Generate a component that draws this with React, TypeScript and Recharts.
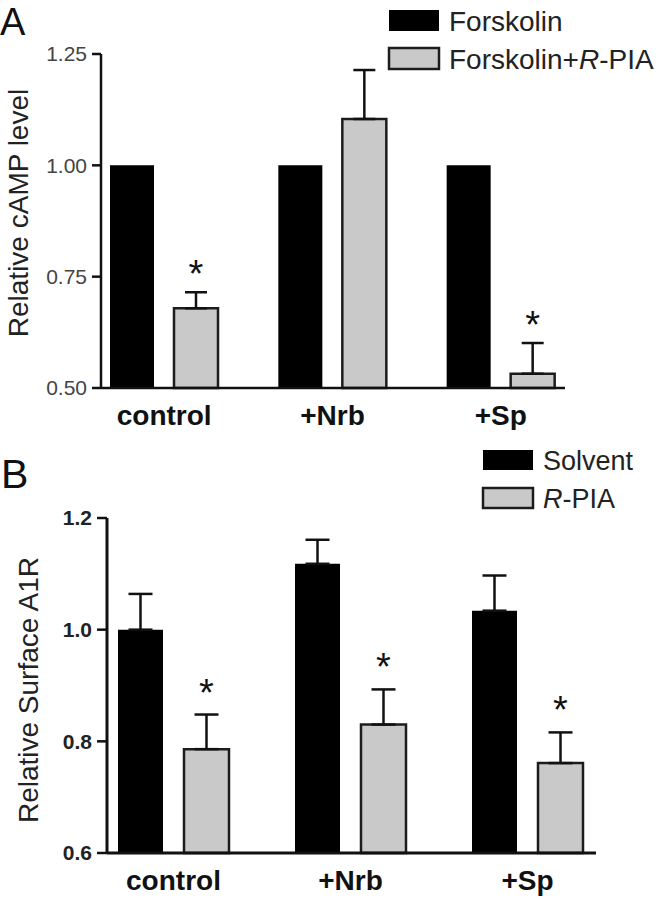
import React from "react";
import { BarChart, Bar, XAxis, YAxis, ErrorBar, LabelList, Legend } from "recharts";

const FONT = '"Liberation Sans", Arial, sans-serif';

// shared categories
const groups = ["control", "+Nrb", "+Sp"];

// panel A: cAMP
const seriesA = ["Forskolin", "Forskolin+R-PIA"];
const forskolin = [1.0, 1.0, 1.0];
const forskolinPia = [0.679, 1.104, 0.532];
const forskolinPiaErr = [0.036, 0.11, 0.069];
const forskolinPiaSig = [true, false, true];
const ticksA = [0.5, 0.75, 1.0, 1.25];

// panel B: surface A1R
const seriesB = ["Solvent", "R-PIA"];
const solvent = [1.0, 1.118, 1.034];
const solventErr = [0.064, 0.043, 0.063];
const rPia = [0.786, 0.83, 0.761];
const rPiaErr = [0.062, 0.063, 0.055];
const rPiaSig = [true, true, true];
const ticksB = [0.6, 0.8, 1.0, 1.2];

const dataA = groups.map((g, i) => ({
  group: g,
  fsk: forskolin[i],
  fskPia: forskolinPia[i],
  fskPiaErr: [0, forskolinPiaErr[i]],
}));

const dataB = groups.map((g, i) => ({
  group: g,
  solvent: solvent[i],
  solventErr: [0, solventErr[i]],
  rpia: rPia[i],
  rpiaErr: [0, rPiaErr[i]],
}));

const GRAY = "#c9c9c9";
const EDGE = "#1c1c1c";

// "R" in R-PIA is italic
function legendName(name: string) {
  const idx = name.indexOf("R-PIA");
  if (idx < 0) return name;
  return (
    <>
      {name.slice(0, idx)}
      <tspan fontStyle="italic">R</tspan>
      {name.slice(idx + 1)}
    </>
  );
}

function makeLegend(order: string[], fontSize: number, rowGap: number, rectH: number) {
  return (props: any) => {
    const items = [...(props.payload || [])].sort(
      (a: any, b: any) => order.indexOf(a.value) - order.indexOf(b.value)
    );
    return (
      <svg width={270} height={rowGap * 2 + 4} style={{ display: "block", overflow: "visible" }}>
        {items.map((it: any, i: number) => {
          const filled = i === 0;
          return (
            <g key={it.value}>
              <rect
                x={1}
                y={1 + i * rowGap}
                width={50}
                height={rectH}
                fill={filled ? "#000" : GRAY}
                stroke={filled ? "none" : EDGE}
                strokeWidth={2.5}
              />
              <text x={61} y={1 + i * rowGap + rectH} fontSize={fontSize} fill="#222" fontFamily={FONT}>
                {legendName(it.value)}
              </text>
            </g>
          );
        })}
      </svg>
    );
  };
}

// asterisk above the error bar, using the bar's own pixel scale
function makeStar(values: number[], errs: number[], sig: boolean[], yMin: number, gap: number) {
  return (props: any) => {
    const { x, y, width, height, index } = props;
    if (!sig[index]) return null;
    const pxPerUnit = height / (values[index] - yMin);
    const top = y - errs[index] * pxPerUnit;
    return (
      <text x={x + width / 2} y={top - gap} textAnchor="middle" fontSize={38} fill="#111" fontFamily={FONT}>
        *
      </text>
    );
  };
}

function PanelA() {
  return (
    <BarChart
      width={658}
      height={430}
      data={dataA}
      margin={{ top: 54, right: 93, bottom: 2, left: 0 }}
      barSize={44}
      barGap={20}
    >
      <XAxis
        dataKey="group"
        height={40}
        padding={{ left: -21, right: -20 }}
        axisLine={{ stroke: "#111", strokeWidth: 2.5 }}
        tickLine={false}
        tickSize={0}
        tickMargin={17}
        tick={{ fontSize: 28, fontWeight: "bold", fill: "#111", fontFamily: FONT }}
      />
      <YAxis
        width={101}
        domain={[0.5, 1.25]}
        ticks={ticksA}
        tickFormatter={(v: number) => v.toFixed(2)}
        axisLine={{ stroke: "#111", strokeWidth: 2.5 }}
        tickLine={{ stroke: "#111", strokeWidth: 2.5 }}
        tickSize={9}
        tickMargin={5}
        tick={{ fontSize: 21, fill: "#444", fontFamily: FONT }}
      />
      <Legend
        layout="vertical"
        align="center"
        verticalAlign="middle"
        wrapperStyle={{ position: "absolute", left: 388, top: 9, width: 270 }}
        content={makeLegend(seriesA, 28, 38, 21)}
      />
      <Bar dataKey="fsk" name={seriesA[0]} fill="#000" isAnimationActive={false} />
      <Bar dataKey="fskPia" name={seriesA[1]} fill={GRAY} stroke={EDGE} strokeWidth={2.5} isAnimationActive={false}>
        <ErrorBar dataKey="fskPiaErr" direction="y" width={11} stroke="#111" strokeWidth={2.5} />
        <LabelList dataKey="fskPia" content={makeStar(forskolinPia, forskolinPiaErr, forskolinPiaSig, 0.5, 5)} />
      </Bar>
    </BarChart>
  );
}

function PanelB() {
  return (
    <BarChart
      width={658}
      height={469}
      data={dataB}
      margin={{ top: 88, right: 62, bottom: 2, left: 0 }}
      barSize={45}
      barGap={21}
    >
      <XAxis
        dataKey="group"
        height={44}
        padding={{ left: -22, right: -20 }}
        axisLine={{ stroke: "#111", strokeWidth: 3 }}
        tickLine={false}
        tickSize={0}
        tickMargin={17}
        tick={{ fontSize: 28, fontWeight: "bold", fill: "#111", fontFamily: FONT }}
      />
      <YAxis
        width={107}
        domain={[0.6, 1.2]}
        ticks={ticksB}
        tickFormatter={(v: number) => v.toFixed(1)}
        axisLine={{ stroke: "#111", strokeWidth: 3 }}
        tickLine={{ stroke: "#111", strokeWidth: 2.5 }}
        tickSize={10}
        tickMargin={5}
        tick={{ fontSize: 21, fontWeight: "bold", fill: "#222", fontFamily: FONT }}
      />
      <Legend
        layout="vertical"
        align="center"
        verticalAlign="middle"
        wrapperStyle={{ position: "absolute", left: 482, top: 19, width: 270 }}
        content={makeLegend(seriesB, 27, 38, 20)}
      />
      <Bar dataKey="solvent" name={seriesB[0]} fill="#000" isAnimationActive={false}>
        <ErrorBar dataKey="solventErr" direction="y" width={12} stroke="#111" strokeWidth={2.5} />
      </Bar>
      <Bar dataKey="rpia" name={seriesB[1]} fill={GRAY} stroke={EDGE} strokeWidth={2.5} isAnimationActive={false}>
        <ErrorBar dataKey="rpiaErr" direction="y" width={12} stroke="#111" strokeWidth={2.5} />
        <LabelList dataKey="rpia" content={makeStar(rPia, rPiaErr, rPiaSig, 0.6, 9)} />
      </Bar>
    </BarChart>
  );
}

export default function App() {
  return (
    <div style={{ position: "absolute", left: 0, top: 0, width: 658, height: 899, background: "#fff", fontFamily: FONT }}>
      <div style={{ position: "absolute", left: 0, top: 0 }}>
        <PanelA />
      </div>
      <div style={{ position: "absolute", left: 0, top: 430 }}>
        <PanelB />
      </div>
      <svg width={658} height={899} style={{ position: "absolute", left: 0, top: 0, pointerEvents: "none" }}>
        <text x={0} y={35} fontSize={38} fill="#111" fontFamily={FONT}>A</text>
        <text x={1} y={488} fontSize={41} fill="#111" fontFamily={FONT}>B</text>
        <text
          transform="translate(28,213) rotate(-90)"
          textAnchor="middle"
          fontSize={28}
          fill="#222"
          fontFamily={FONT}
        >
          Relative cAMP level
        </text>
        <text
          transform="translate(38,690) rotate(-90)"
          textAnchor="middle"
          fontSize={28}
          fill="#222"
          fontFamily={FONT}
        >
          Relative Surface A1R
        </text>
      </svg>
    </div>
  );
}
